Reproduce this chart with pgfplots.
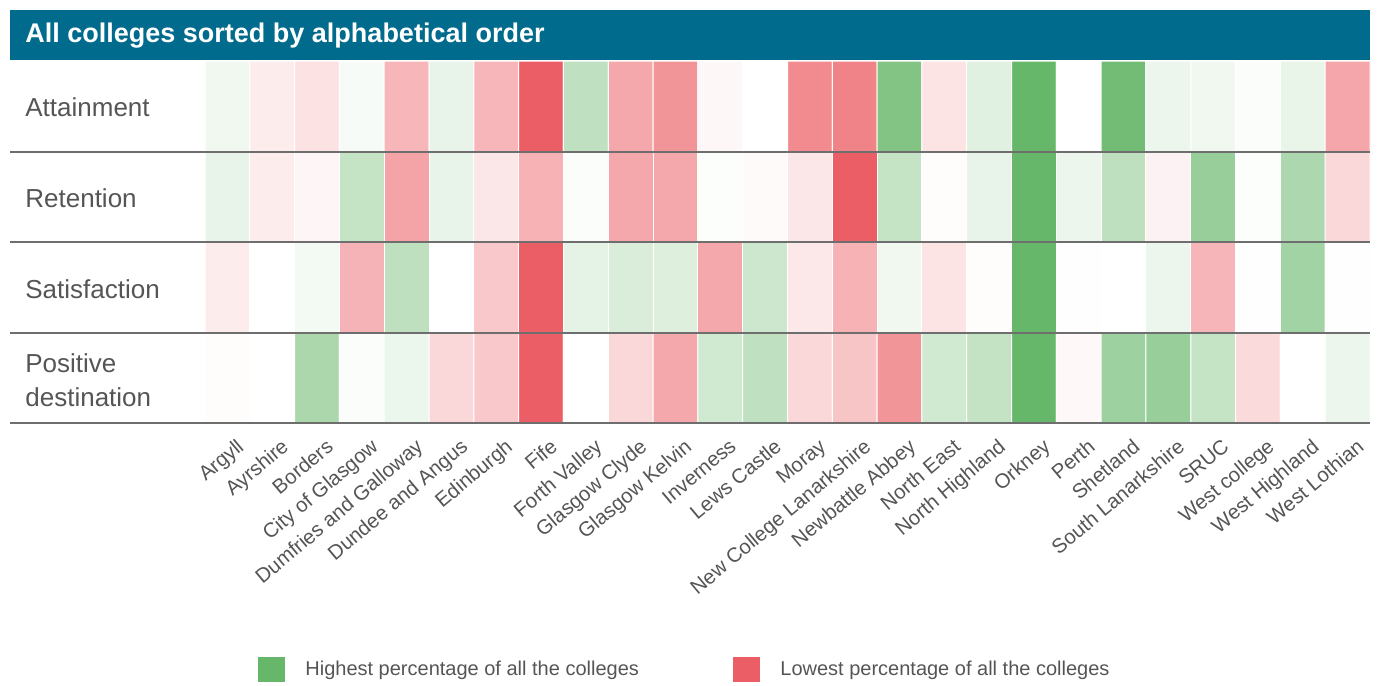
\documentclass[border=0pt]{standalone}
\usepackage{pgfplots}
\pgfplotsset{compat=1.18}
\usepackage{fontspec}
\setmainfont{Liberation Sans}
\definecolor{teal}{RGB}{0,107,140}
\definecolor{txt}{RGB}{85,85,85}
\definecolor{hi}{RGB}{103,183,106}
\definecolor{lo}{RGB}{236,94,101}
\definecolor{rule}{RGB}{110,110,110}
\begin{document}
\begin{tikzpicture}[x=0.5pt,y=-0.5pt]
\useasboundingbox (0,0) rectangle (1378,686);
% title bar
\fill[teal] (10,10) rectangle (1370,60);
\node[anchor=west,text=white,font=\fontsize{13.5}{16}\selectfont\bfseries,inner sep=0pt] at (25,36) {All colleges sorted by alphabetical order};
\begin{axis}[
  at={(102.5pt,-211.5pt)}, anchor=south west,
  scale only axis, width=582.5pt, height=181pt,
  xmin=-0.5, xmax=25.5, ymin=-0.5, ymax=3.5, y dir=reverse,
  enlargelimits=false,
  axis line style={draw=none},
  major tick length=0pt,
  ytick=\empty,
  xtick={0,...,25},
  xticklabels={Argyll,Ayrshire,Borders,City of Glasgow,Dumfries and Galloway,Dundee and Angus,Edinburgh,Fife,Forth Valley,Glasgow Clyde,Glasgow Kelvin,Inverness,Lews Castle,Moray,New College Lanarkshire,Newbattle Abbey,North East,North Highland,Orkney,Perth,Shetland,South Lanarkshire,SRUC,West college,West Highland,West Lothian},
  xticklabel style={rotate=40, anchor=north east, font=\fontsize{10.2}{12}\selectfont, text=txt, inner sep=1pt, yshift=-7pt, xshift=-0.5pt},
  colormap={rg}{rgb255(0)=(236,94,101); rgb255(1)=(255,255,255); rgb255(2)=(103,183,106)},
  point meta min=-1, point meta max=1,
]
\addplot[matrix plot*, mesh/cols=26, mesh/rows=4, point meta=explicit, draw=white, line width=0.5pt] table[meta=c] {
x y c
0 0 0.10
1 0 -0.12
2 0 -0.18
3 0 0.05
4 0 -0.45
5 0 0.15
6 0 -0.45
7 0 -1.00
8 0 0.42
9 0 -0.54
10 0 -0.66
11 0 -0.05
12 0 0.00
13 0 -0.72
14 0 -0.77
15 0 0.82
16 0 -0.17
17 0 0.20
18 0 1.00
19 0 0.00
20 0 0.93
21 0 0.12
22 0 0.10
23 0 0.03
24 0 0.14
25 0 -0.55
0 1 0.15
1 1 -0.12
2 1 -0.06
3 1 0.38
4 1 -0.57
5 1 0.15
6 1 -0.15
7 1 -0.48
8 1 0.03
9 1 -0.54
10 1 -0.54
11 1 0.02
12 1 -0.03
13 1 -0.15
14 1 -1.00
15 1 0.38
16 1 -0.02
17 1 0.15
18 1 1.00
19 1 0.12
20 1 0.43
21 1 -0.08
22 1 0.68
23 1 0.02
24 1 0.54
25 1 -0.25
0 2 -0.12
1 2 0.00
2 2 0.08
3 2 -0.47
4 2 0.43
5 2 0.00
6 2 -0.34
7 2 -1.00
8 2 0.17
9 2 0.25
10 2 0.22
11 2 -0.54
12 2 0.33
13 2 -0.14
14 2 -0.48
15 2 0.10
16 2 -0.17
17 2 -0.02
18 2 1.00
19 2 0.01
20 2 0.00
21 2 0.12
22 2 -0.46
23 2 0.01
24 2 0.61
25 2 0.01
0 3 -0.02
1 3 0.00
2 3 0.55
3 3 0.03
4 3 0.13
5 3 -0.25
6 3 -0.34
7 3 -1.00
8 3 0.00
9 3 -0.24
10 3 -0.54
11 3 0.31
12 3 0.42
13 3 -0.25
14 3 -0.36
15 3 -0.66
16 3 0.31
17 3 0.39
18 3 1.00
19 3 -0.04
20 3 0.64
21 3 0.68
22 3 0.38
23 3 -0.23
24 3 0.00
25 3 0.12
};
\end{axis}
% row rules
\foreach \yy in {152,242,333,423} \draw[rule,line width=0.75pt] (10,\yy) -- (1370,\yy);
% row labels
\begin{scope}[every node/.style={anchor=west,text=txt,font=\fontsize{13}{17}\selectfont,inner sep=0pt,align=left}]
\node at (25,107) {Attainment};
\node at (25,198) {Retention};
\node at (25,289) {Satisfaction};
\node at (25,380) {Positive\\destination};
\end{scope}
% legend
\fill[hi] (258,657) rectangle (285,682);
\node[anchor=west,text=txt,font=\fontsize{10}{12}\selectfont,inner sep=0pt] at (305,670) {Highest percentage of all the colleges};
\fill[lo] (733,657) rectangle (760,682);
\node[anchor=west,text=txt,font=\fontsize{10}{12}\selectfont,inner sep=0pt] at (780,670) {Lowest percentage of all the colleges};
\end{tikzpicture}
\end{document}
